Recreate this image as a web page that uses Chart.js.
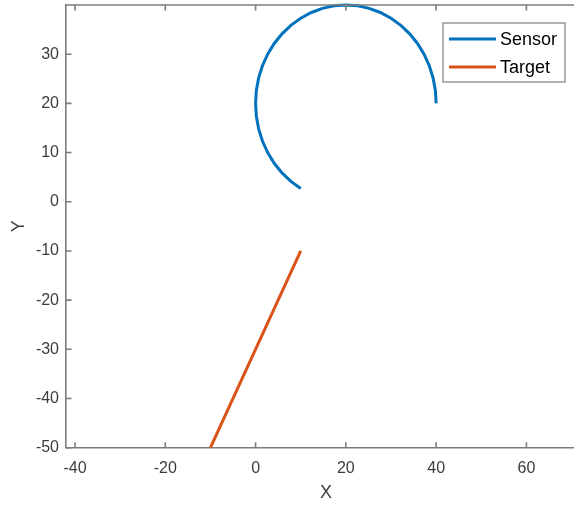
<!DOCTYPE html>
<html>
<head>
<meta charset="utf-8">
<script src="https://cdn.jsdelivr.net/npm/chart.js@4/dist/chart.umd.min.js"></script>
<style>
	body { margin: 0; overflow: hidden; background: #fff; }
	#wrap { width: 600px; height: 505px; }
</style>
</head>
<body>
<div id="wrap"><canvas id="grafico" width="600" height="505"></canvas></div>
<script>
// Trajetoria do sensor (arco)
const sensorX = [40, 39.83, 39.32, 38.48, 37.32, 35.87, 34.14, 32.18, 30, 27.65, 25.18, 22.61, 20,
	17.39, 14.82, 12.35, 10, 7.82, 5.86, 4.13, 2.68, 1.52, 0.68, 0.17, 0,
	0.17, 0.68, 1.52, 2.68, 4.13, 5.86, 7.82, 10];
const sensorY = [20, 22.61, 25.18, 27.65, 30, 32.18, 34.14, 35.87, 37.32, 38.48, 39.32, 39.83, 40,
	39.83, 39.32, 38.48, 37.32, 35.87, 34.14, 32.18, 30, 27.65, 25.18, 22.61, 20,
	17.39, 14.82, 12.35, 10, 7.82, 5.86, 4.13, 2.68];

// Trajetoria do alvo
const targetX = [10, -10];
const targetY = [-10, -50];

// Ticks dos eixos
const xTicks = [-40, -20, 0, 20, 40, 60];
const yTicks = [-50, -40, -30, -20, -10, 0, 10, 20, 30];

const corEixo = '#7d7d7d';
const corTexto = '#3c3c3c';
const fonte = "'Liberation Sans', Arial, Helvetica, sans-serif";

function pontos(xs, ys) {
	return xs.map((x, i) => ({ x: x, y: ys[i] }));
}

// Ticks para dentro + linha de cima
const ticksDentro = {
	id: 'ticksDentro',
	afterDraw(chart) {
		const ctx = chart.ctx;
		const a = chart.chartArea;
		const sx = chart.scales.x;
		const sy = chart.scales.y;
		ctx.save();
		ctx.strokeStyle = corEixo;
		ctx.lineWidth = 1.6;
		ctx.beginPath();
		ctx.moveTo(a.left, a.top);
		ctx.lineTo(a.right, a.top);
		sx.ticks.forEach(t => {
			const px = sx.getPixelForValue(t.value);
			ctx.moveTo(px, a.bottom);
			ctx.lineTo(px, a.bottom - 5.5);
			ctx.moveTo(px, a.top);
			ctx.lineTo(px, a.top + 5.5);
		});
		sy.ticks.forEach(t => {
			const py = sy.getPixelForValue(t.value);
			ctx.moveTo(a.left, py);
			ctx.lineTo(a.left + 5.5, py);
		});
		ctx.stroke();
		ctx.restore();
	}
};

// Legenda dentro da area do grafico
const legendaCaixa = {
	id: 'legendaCaixa',
	afterDraw(chart) {
		const ctx = chart.ctx;
		const bx = 443, by = 23, bw = 122, bh = 59;
		ctx.save();
		ctx.fillStyle = '#fff';
		ctx.fillRect(bx, by, bw, bh);
		ctx.strokeStyle = '#8a8a8a';
		ctx.lineWidth = 1.3;
		ctx.strokeRect(bx, by, bw, bh);
		chart.data.datasets.forEach((ds, i) => {
			const y = by + 16 + i * 28;
			ctx.strokeStyle = ds.borderColor;
			ctx.lineWidth = ds.borderWidth;
			ctx.beginPath();
			ctx.moveTo(bx + 6, y);
			ctx.lineTo(bx + 53, y);
			ctx.stroke();
			ctx.fillStyle = '#000';
			ctx.font = '18px ' + fonte;
			ctx.textBaseline = 'middle';
			ctx.fillText(ds.label, bx + 57, y + 1);
		});
		ctx.restore();
	}
};

let grafico = new Chart(document.getElementById('grafico'), {
	type: 'line',
	data: {
		datasets: [{
			label: 'Sensor',
			data: pontos(sensorX, sensorY),
			borderColor: '#0072BD',
			borderWidth: 3,
			pointRadius: 0,
			tension: 0,
			clip: 3
		}, {
			label: 'Target',
			data: pontos(targetX, targetY),
			borderColor: '#D95319',
			borderWidth: 3,
			pointRadius: 0,
			tension: 0,
			clip: 3
		}]
	},
	options: {
		responsive: false,
		animation: false,
		devicePixelRatio: 1,
		layout: { padding: { top: 5, right: 14, left: 0, bottom: 0 } },
		plugins: {
			legend: { display: false },
			tooltip: { enabled: false }
		},
		scales: {
			x: {
				type: 'linear',
				min: -42,
				max: 73.2,
				afterBuildTicks: s => { s.ticks = xTicks.map(v => ({ value: v })); },
				afterFit: s => { s.height = 57.3; s.paddingLeft = 0; s.paddingRight = 0; },
				grid: { display: false, drawTicks: false },
				border: { display: true, color: corEixo, width: 1.6 },
				ticks: { padding: 11, color: corTexto, font: { family: fonte, size: 16 } },
				title: {
					display: true, text: 'X', color: corTexto,
					font: { family: fonte, size: 18 },
					padding: { top: 0, bottom: 1 }
				}
			},
			y: {
				type: 'linear',
				min: -50,
				max: 40,
				afterBuildTicks: s => { s.ticks = yTicks.map(v => ({ value: v })); },
				afterFit: s => { s.width = 66; s.paddingTop = 0; s.paddingBottom = 0; },
				grid: { display: false, drawTicks: false },
				border: { display: true, color: corEixo, width: 1.6 },
				ticks: { padding: 7, color: corTexto, font: { family: fonte, size: 16 } },
				title: {
					display: true, text: 'Y', color: corTexto,
					font: { family: fonte, size: 18 },
					padding: { top: 8, bottom: 0 }
				}
			}
		}
	},
	plugins: [ticksDentro, legendaCaixa]
});
</script>
</body>
</html>
